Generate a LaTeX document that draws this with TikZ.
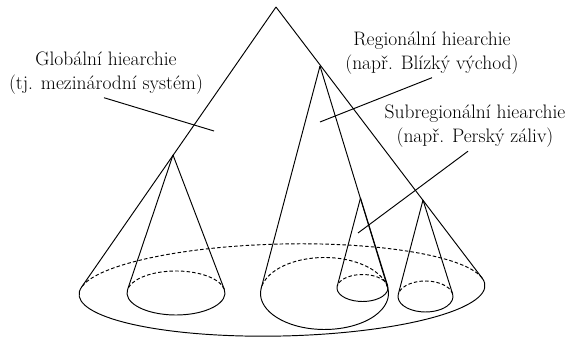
\documentclass[tikz,border=0pt]{standalone}
\usepackage{tikz}
\usetikzlibrary{calc}
% cone: apex (x,y), base centre (x,y), radii and tilt of the base
\def\cone(#1,#2)(#3,#4)(#5:#6:#7){%
	\pgfmathsetmacro\dx{(#1-#3)*cos(#7)+(#2-#4)*sin(#7)}%
	\pgfmathsetmacro\dy{-(#1-#3)*sin(#7)+(#2-#4)*cos(#7)}%
	\pgfmathsetmacro\uu{\dx/#5}%
	\pgfmathsetmacro\vv{\dy/#6}%
	\pgfmathsetmacro\ph{atan2(\vv,\uu)}%
	\pgfmathsetmacro\al{acos(1/sqrt(\uu*\uu+\vv*\vv))}%
	\pgfmathsetmacro\ta{\ph-\al}%
	\pgfmathsetmacro\tb{\ph+\al}%
	\pgfmathsetmacro\tc{\ta+360}%
	\begin{scope}[shift={(#3,#4)},rotate=#7]
		\draw (\dx,\dy) -- ({#5*cos(\ta)},{#6*sin(\ta)});
		\draw (\dx,\dy) -- ({#5*cos(\tb)},{#6*sin(\tb)});
		\draw[back] ({#5*cos(\ta)},{#6*sin(\ta)}) arc[start angle=\ta, end angle=\tb, x radius=#5, y radius=#6];
		\draw ({#5*cos(\tb)},{#6*sin(\tb)}) arc[start angle=\tb, end angle=\tc, x radius=#5, y radius=#6];
	\end{scope}}

\begin{document}
\begin{tikzpicture}[x=1pt, y=1pt, line width=0.95pt,
	back/.style={dash pattern=on 3.5pt off 2.2pt},
	label/.style={align=center, inner sep=0pt, font=\fontsize{19.5}{24}\selectfont}]
			\useasboundingbox (0,0) rectangle (576,339);
			
			%%%%% cones %%%%%
			\cone(276,332)(282,49)(203:46:1.3)
			\cone(173,184)(176,46)(49:22:0)
			\cone(320,273)(324.5,45.5)(64:36:0)
			\cone(360.5,141)(362.5,51)(25.5:13.5:0)
			\cone(423,139)(425.5,42.5)(27.5:15.5:0)
			
			%%%%% labels %%%%%
			\node[label] (global) at (106,266) {Globální hiearchie\\(tj. mezinárodní systém)};
			\node[label] (regional) at (432,286) {Regionální hiearchie\\(např. Blízký východ)};
			\node[label] (subregional) at (475,212.5) {Subregionální hiearchie\\(např. Perský záliv)};
			
			\coordinate (globaltip) at (214,208);
			\coordinate (regionaltip) at (320,217);
			\coordinate (subregionaltip) at (358,106);
			
			\draw ([xshift=-2pt, yshift=-3pt]global.south) -- (globaltip);
			\draw ([yshift=-3pt]regional.south) -- (regionaltip);
			\draw ([xshift=-7pt, yshift=-3pt]subregional.south) -- (subregionaltip);
\end{tikzpicture}
\end{document}
